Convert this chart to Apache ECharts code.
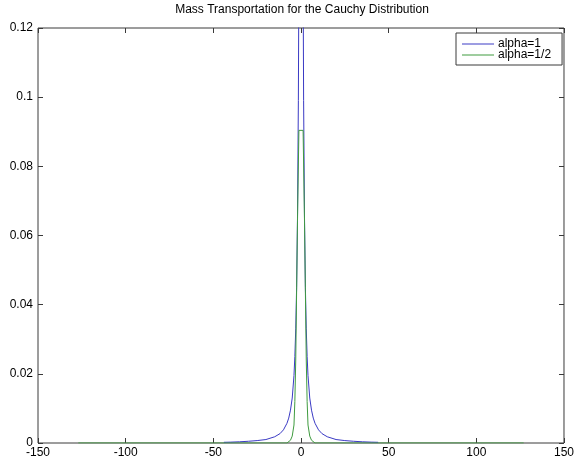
<!DOCTYPE html>
<html>
<head>
<meta charset="utf-8">
<script src="https://cdn.jsdelivr.net/npm/echarts@6/dist/echarts.min.js"></script>
<style>
  html, body { margin: 0; padding: 0; background: #fff; }
  #chart { width: 577px; height: 464px; }
</style>
</head>
<body>
<div id="chart"></div>
<script>
// Transported densities, alpha = 1 and alpha = 1/2
const blueX = [-44, -40, -35, -30, -25, -20, -15, -12, -10, -8, -7, -6, -5, -4, -3.5, -3, -2.5, -2, -1.5, -1, -0.5, 0,
               0.5, 1, 1.5, 2, 2.5, 3, 3.5, 4, 5, 6, 7, 8, 10, 12, 15, 20, 25, 30, 35, 40, 44];
const blueY = [0.0002, 0.00025, 0.00035, 0.0005, 0.0007, 0.0010, 0.0018, 0.0027, 0.0038, 0.0057, 0.0072, 0.0095, 0.013, 0.0195, 0.025, 0.033, 0.045, 0.065, 0.099, 0.160, 0.255, 0.318,
               0.255, 0.160, 0.099, 0.065, 0.045, 0.033, 0.025, 0.0195, 0.013, 0.0095, 0.0072, 0.0057, 0.0038, 0.0027, 0.0018, 0.0010, 0.0007, 0.0005, 0.00035, 0.00025, 0.0002];

const greenX = [-127, -100, -50, -20, -8, -7, -6, -5, -4, -3.5, -3, -2.5, -2, -1.2, 0,
                1.2, 2, 2.5, 3, 3.5, 4, 5, 6, 7, 8, 20, 50, 100, 127];
const greenY = [0, 0, 0, 0, 0, 0.0003, 0.0008, 0.0020, 0.0052, 0.012, 0.024, 0.044, 0.064, 0.0904, 0.0904,
                0.0904, 0.064, 0.044, 0.024, 0.012, 0.0052, 0.0020, 0.0008, 0.0003, 0, 0, 0, 0, 0];

const seriesNames = ['alpha=1', 'alpha=1/2'];
const titleText = 'Mass Transportation for the Cauchy Distribution';

const pairs = (xs, ys) => xs.map((x, i) => [x, ys[i]]);

const font = '"Liberation Sans", Arial, Helvetica, sans-serif';
const frameColor = '#3a3a3a';

const chart = echarts.init(document.getElementById('chart'), null, { renderer: 'canvas' });

const tickInside = { show: true, inside: true, length: 5, lineStyle: { color: frameColor, width: 1 } };
const hiddenLine = { show: false, onZero: false };

chart.setOption({
  animation: false,
  backgroundColor: '#fff',
  textStyle: { fontFamily: font },
  graphic: [{
    type: 'text',
    x: 302, y: 10,
    style: {
      text: titleText,
      fill: '#000',
      font: '12px ' + font,
      textAlign: 'center',
      textVerticalAlign: 'middle'
    }
  }],
  grid: {
    left: 38, right: 9, top: 28, bottom: 21,
    show: true, borderColor: frameColor, borderWidth: 1, backgroundColor: '#fff'
  },
  legend: {
    data: seriesNames,
    orient: 'vertical',
    left: 456, top: 33,
    padding: [5, 11, 4, 6],
    itemGap: -1,
    itemWidth: 32,
    itemHeight: 1,
    icon: 'rect',
    backgroundColor: '#fff',
    borderColor: frameColor,
    borderWidth: 1,
    borderRadius: 0,
    textStyle: { fontSize: 12, color: '#000', fontFamily: font, padding: [0, 0, 0, -1] }
  },
  xAxis: [{
    type: 'value', min: -150, max: 150, interval: 50, position: 'bottom',
    axisLine: hiddenLine,
    axisTick: tickInside,
    splitLine: { show: false },
    axisLabel: { color: '#000', fontSize: 12, margin: 4, fontFamily: font }
  }, {
    type: 'value', min: -150, max: 150, interval: 50, position: 'top',
    axisLine: hiddenLine,
    axisTick: tickInside,
    splitLine: { show: false },
    axisLabel: { show: false }
  }],
  yAxis: [{
    type: 'value', min: 0, max: 0.12, interval: 0.02, position: 'left',
    axisLine: hiddenLine,
    axisTick: tickInside,
    splitLine: { show: false },
    axisLabel: { color: '#000', fontSize: 12, margin: 5, fontFamily: font }
  }, {
    type: 'value', min: 0, max: 0.12, interval: 0.02, position: 'right',
    axisLine: hiddenLine,
    axisTick: tickInside,
    splitLine: { show: false },
    axisLabel: { show: false }
  }],
  series: [{
    name: seriesNames[0],
    type: 'line',
    data: pairs(blueX, blueY),
    showSymbol: false, symbol: 'none',
    clip: true,
    color: '#3a3ac4',
    lineStyle: { width: 1, color: '#3a3ac4' }
  }, {
    name: seriesNames[1],
    type: 'line',
    data: pairs(greenX, greenY),
    showSymbol: false, symbol: 'none',
    clip: true,
    color: '#3f9b3f',
    lineStyle: { width: 1, color: '#3f9b3f' }
  }]
});
</script>
</body>
</html>
